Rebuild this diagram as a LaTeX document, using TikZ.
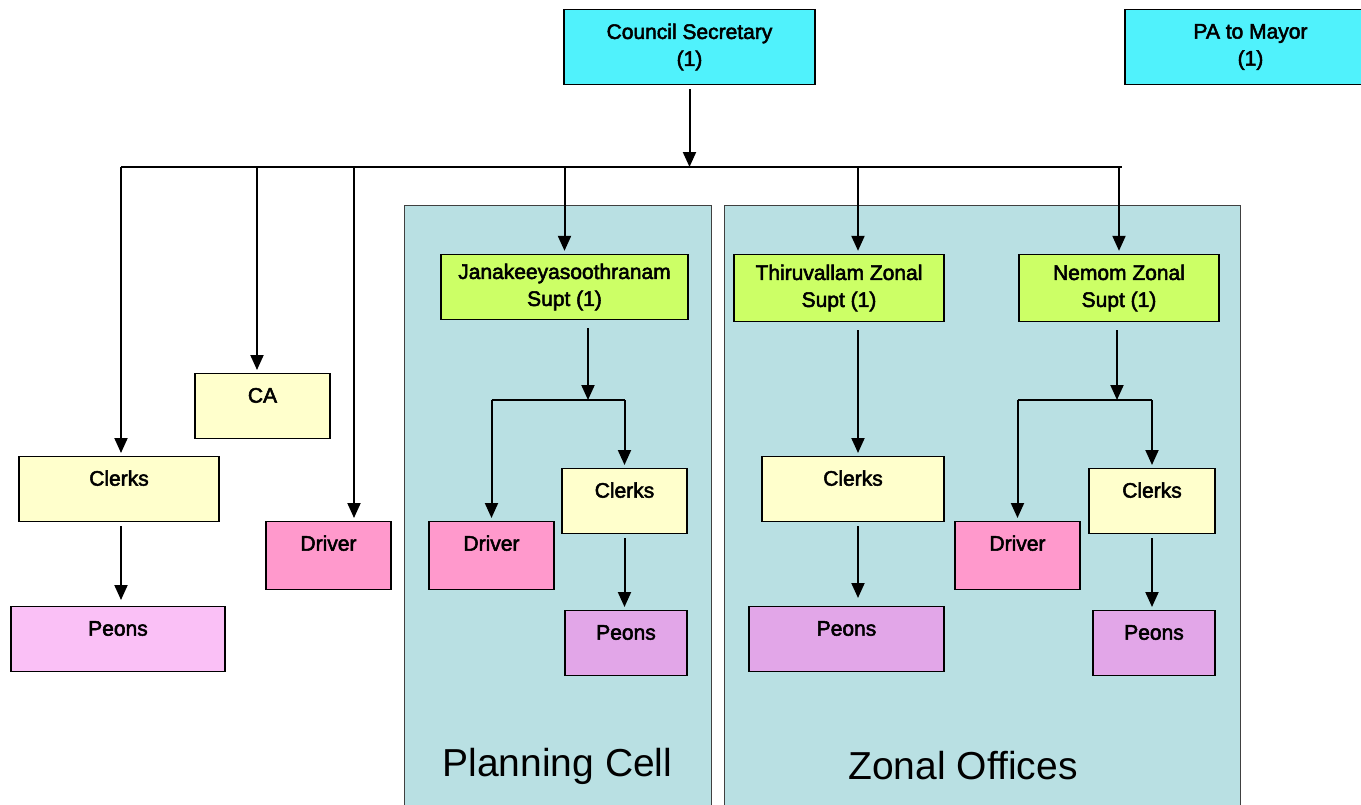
\documentclass[tikz,border=0pt]{standalone}
\usepackage{fontspec}
\setmainfont{Liberation Sans}[BoldFont={Liberation Sans},BoldFeatures={FakeBold=2.5}]
\usetikzlibrary{arrows.meta}
\definecolor{headcyan}{RGB}{80,242,252}
\definecolor{suptgreen}{RGB}{204,255,102}
\definecolor{staffyellow}{RGB}{255,255,204}
\definecolor{driverpink}{RGB}{255,153,204}
\definecolor{peonpink}{RGB}{250,192,246}
\definecolor{peonviolet}{RGB}{226,166,232}
\definecolor{cellblue}{RGB}{185,224,227}

\begin{document}
\begin{tikzpicture}[x=1pt,y=-1pt,
  box/.style={draw,line width=1.3pt,inner sep=0pt,align=center,
    font=\fontsize{21}{27}\selectfont\bfseries},
  twoline/.style={box,minimum width=#1,minimum height=75pt},
  single/.style 2 args={box,minimum width=#1,text height=29pt,text depth=#2-29pt},
  arr/.style={line width=2pt,-{Triangle[length=15pt,width=13pt]},
    shorten <=4pt,shorten >=3pt},
  panel/.style={fill=cellblue,draw=black!75,line width=1pt}]
\useasboundingbox (0,0) rectangle (1361,804);

% panels
\draw[panel] (404,205) rectangle (711,815);
\draw[panel] (724,205) rectangle (1240,815);
\node[font=\fontsize{39}{39}\selectfont] (pcell) at (557.5,766) {Planning Cell};
\node[font=\fontsize{39}{39}\selectfont] (zoff) at (963,766) {Zonal Offices};

% top
\node[twoline=251pt,fill=headcyan] (cs) at (689.5,47) {Council Secretary\\(1)};
\node[twoline=251pt,fill=headcyan] (pa) at (1250.5,47) {PA to Mayor\\(1)};

% left staff
\node[single={135pt}{65pt},fill=staffyellow] (ca) at (262.5,373) [anchor=north] {CA};
\node[single={200pt}{65pt},fill=staffyellow] (clerksL) at (119,456) [anchor=north] {Clerks};
\node[single={214pt}{65pt},fill=peonpink] (peonsL) at (118,606) [anchor=north] {Peons};
\node[single={125pt}{68pt},fill=driverpink] (driverL) at (328.5,521) [anchor=north] {Driver};

% planning cell
\node[box,minimum width=247pt,minimum height=65pt,fill=suptgreen] (janak) at (564.5,287) {Janakeeyasoothranam\\Supt (1)};
\node[single={125pt}{68pt},fill=driverpink] (driverP) at (491.5,521) [anchor=north] {Driver};
\node[single={125pt}{65pt},fill=staffyellow] (clerksP) at (624.5,468) [anchor=north] {Clerks};
\node[single={122pt}{65pt},fill=peonviolet] (peonsP) at (626,610) [anchor=north] {Peons};

% zonal offices
\node[box,minimum width=210pt,minimum height=67pt,fill=suptgreen] (thir) at (839,288) {Thiruvallam Zonal\\Supt (1)};
\node[box,minimum width=200pt,minimum height=67pt,fill=suptgreen] (nemom) at (1119,288) {Nemom Zonal\\Supt (1)};
\node[single={182pt}{65pt},fill=staffyellow] (clerksZ) at (853,456) [anchor=north] {Clerks};
\node[single={195pt}{65pt},fill=peonviolet] (peonsZ) at (846.5,606) [anchor=north] {Peons};
\node[single={125pt}{68pt},fill=driverpink] (driverN) at (1017.5,521) [anchor=north] {Driver};
\node[single={126pt}{65pt},fill=staffyellow] (clerksN) at (1152,468) [anchor=north] {Clerks};
\node[single={122pt}{65pt},fill=peonviolet] (peonsN) at (1154,610) [anchor=north] {Peons};

% connectors
\coordinate (busL) at (121,167);
\coordinate (busR) at (1122,167);
\coordinate (pjoin) at (588,400);
\coordinate (njoin) at (1117,400);
\coordinate (caTop) at ([xshift=-5.5pt]ca.north);
\coordinate (drvTop) at ([xshift=25.5pt]driverL.north);
\coordinate (thirTop) at ([xshift=19pt]thir.north);
\coordinate (thirBot) at ([xshift=19pt]thir.south);
\coordinate (czTop) at ([xshift=5pt]clerksZ.north);
\coordinate (czBot) at ([xshift=5pt]clerksZ.south);
\coordinate (clBot) at ([xshift=2pt]clerksL.south);

\draw[arr,shorten >=0pt] (cs) -- (cs.south |- busL);
\draw[line width=2pt] (busL) -- (busR);
\draw[arr,shorten <=0pt] (busL) -- (busL |- clerksL.north);
\draw[arr,shorten <=0pt] (caTop |- busL) -- (caTop);
\draw[arr,shorten <=0pt] (drvTop |- busL) -- (drvTop);
\draw[arr,shorten <=0pt] (janak.north |- busL) -- (janak.north);
\draw[arr,shorten <=0pt] (thirTop |- busL) -- (thirTop);
\draw[arr,shorten <=0pt] (nemom.north |- busL) -- (nemom.north);
\draw[arr,shorten >=6pt] (clBot) -- (clBot |- peonsL.north);

\draw[arr,shorten <=8pt,shorten >=0pt] (janak.south -| pjoin) -- (pjoin);
\draw[line width=2pt] (driverP.north |- pjoin) -- (clerksP.north |- pjoin);
\draw[arr,shorten <=0pt] (driverP.north |- pjoin) -- (driverP.north);
\draw[arr,shorten <=0pt] (clerksP.north |- pjoin) -- (clerksP.north);
\draw[arr] (clerksP.south) -- (clerksP.south |- peonsP.north);

\draw[arr,shorten <=8pt] (thirBot) -- (czTop);
\draw[arr,shorten >=8pt] (czBot) -- (czBot |- peonsZ.north);
\draw[arr,shorten <=8pt,shorten >=0pt] (nemom.south -| njoin) -- (njoin);
\draw[line width=2pt] (driverN.north |- njoin) -- (clerksN.north |- njoin);
\draw[arr,shorten <=0pt] (driverN.north |- njoin) -- (driverN.north);
\draw[arr,shorten <=0pt] (clerksN.north |- njoin) -- (clerksN.north);
\draw[arr] (clerksN.south) -- (clerksN.south |- peonsN.north);
\end{tikzpicture}
\end{document}
